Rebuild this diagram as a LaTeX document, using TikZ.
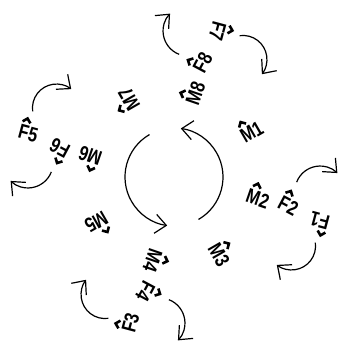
\documentclass[tikz,border=0pt]{standalone}
\usepackage{fontspec}
\setmainfont[FakeStretch=0.8]{Liberation Sans}
\usetikzlibrary{arrows.meta}
\newcommand\hatted[1]{\ooalign{#1\cr\hidewidth\raisebox{16pt}{\tikz\draw[line width=2.6pt, line join=miter] (0pt,0pt) -- (4pt,4pt) -- (8pt,0pt);}\hidewidth\cr}}
\begin{document}
\begin{tikzpicture}[x=1pt,y=1pt,
  lab/.style={font=\fontsize{20.5}{20.5}\selectfont\bfseries, inner sep=0pt},
  arr/.style={line width=1.2pt, -{Straight Barb[length=11pt,width=19pt]}}]
\useasboundingbox (0,-348) rectangle (339,0);
\coordinate (C) at (174,-177);
% central circle of two arcs
\draw[arr] ([shift={(120:49)}]C) arc[start angle=120, end angle=262, radius=49];
\draw[arr] ([shift={(-60:49)}]C) arc[start angle=-60, end angle=82, radius=49];
\foreach \k/\a/\b in {0/1/2,1/3/4,2/5/6,3/7/8}{
  \pgfmathsetmacro\ph{-90*\k}
  \node[lab, rotate={30+\ph}] (M\a) at ([shift={({30+\ph}:89.7)}]C) {\hatted{M}\a};
  \node[lab, rotate={-19+\ph}] (M\b) at ([shift={({-14.4+\ph}:86.5)}]C) {\hatted{M}\b};
  \node[lab, rotate={-28+\ph}] (F\b) at ([shift={({-14.1+\ph}:117.8)}]C) {\hatted{F}\b};
  \node[lab, rotate={165+\ph}] (F\a) at ([shift={({-16.6+\ph}:152.1)}]C) {\hatted{F}\a};
  \draw[arr] ([shift={({-5.5+\ph}:146.7)}]C) ++({159+\ph}:25)
     arc[start angle={159+\ph}, end angle={46+\ph}, radius=25];
  \draw[arr] ([shift={({-30.4+\ph}:136.3)}]C) ++({8+\ph}:24)
     arc[start angle={8+\ph}, end angle={-128+\ph}, radius=24];
}
\end{tikzpicture}
\end{document}
